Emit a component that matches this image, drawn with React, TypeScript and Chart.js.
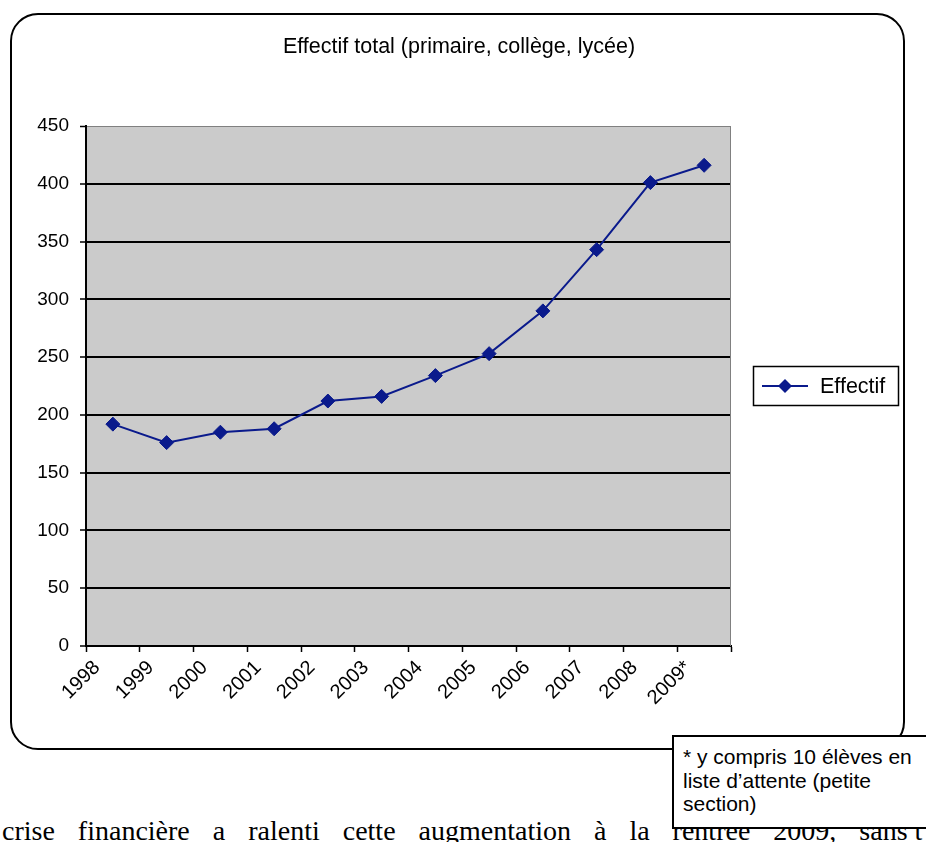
import React, { useEffect, useRef } from 'react';
import { Chart, registerables } from 'chart.js';

Chart.register(...registerables);

const TITLE = 'Effectif total (primaire, collège, lycée)';
const SERIES_LABEL = 'Effectif';
const YEARS = ['1998', '1999', '2000', '2001', '2002', '2003', '2004', '2005', '2006', '2007', '2008', '2009*'];
const EFFECTIF = [192, 176, 185, 188, 212, 216, 234, 253, 290, 343, 401, 416];
const Y_MIN = 0;
const Y_MAX = 450;
const Y_STEP = 50;
const NOTE_LINES = ['* y compris 10 élèves en', 'liste d’attente (petite', 'section)'];
const BODY_TEXT = 'crise financière a ralenti cette augmentation à la rentrée 2009, sans';
const BODY_TAIL = ' t';

const SANS = '"Liberation Sans", Arial, sans-serif';
const NAVY = '#0A1A8C';

const excelPlugin = {
  id: 'excelLook',
  beforeDraw(chart: any) {
    const { ctx, chartArea: a } = chart;
    ctx.save();
    ctx.fillStyle = '#CBCBCB';
    ctx.fillRect(a.left, a.top, a.right - a.left, a.bottom - a.top);
    ctx.restore();
  },
  beforeDatasetsDraw(chart: any) {
    const { ctx, chartArea: a } = chart;
    ctx.save();
    ctx.strokeStyle = '#808080';
    ctx.lineWidth = 1;
    ctx.beginPath();
    ctx.moveTo(a.right - 0.5, a.top);
    ctx.lineTo(a.right - 0.5, a.bottom);
    ctx.stroke();
    ctx.restore();
  },
  afterDraw(chart: any) {
    const { ctx } = chart;
    ctx.save();
    // title
    ctx.fillStyle = '#000';
    ctx.font = `21.5px ${SANS}`;
    ctx.textAlign = 'center';
    ctx.textBaseline = 'middle';
    ctx.fillText(TITLE, 459, 47);
    // legend
    const lx = 753, ly = 366, lw = 145, lh = 39;
    ctx.fillStyle = '#fff';
    ctx.fillRect(lx, ly, lw, lh);
    ctx.strokeStyle = '#000';
    ctx.lineWidth = 1.5;
    ctx.strokeRect(lx + 0.5, ly + 0.5, lw, lh);
    const cy = ly + lh / 2 + 0.5;
    const ds = chart.data.datasets[0];
    ctx.strokeStyle = ds.borderColor;
    ctx.lineWidth = 2;
    ctx.beginPath();
    ctx.moveTo(lx + 9, cy);
    ctx.lineTo(lx + 55, cy);
    ctx.stroke();
    const mx = lx + 32, r = 7;
    ctx.fillStyle = ds.backgroundColor;
    ctx.beginPath();
    ctx.moveTo(mx, cy - r);
    ctx.lineTo(mx + r, cy);
    ctx.lineTo(mx, cy + r);
    ctx.lineTo(mx - r, cy);
    ctx.closePath();
    ctx.fill();
    ctx.fillStyle = '#000';
    ctx.font = `21.5px ${SANS}`;
    ctx.textAlign = 'left';
    ctx.textBaseline = 'middle';
    ctx.fillText(ds.label, lx + 67, cy + 1);
    ctx.restore();
  },
};

export default function App() {
  const ref = useRef<HTMLCanvasElement>(null);

  useEffect(() => {
    const xFont = { family: SANS, size: 20 };
    const yFont = { family: SANS, size: 19 };
    const chart = new Chart(ref.current as HTMLCanvasElement, {
      type: 'line',
      data: {
        labels: YEARS,
        datasets: [
          {
            label: SERIES_LABEL,
            data: EFFECTIF,
            borderColor: NAVY,
            backgroundColor: NAVY,
            borderWidth: 2,
            pointStyle: 'rectRot',
            pointRadius: 7,
            pointBorderWidth: 1,
            pointBorderColor: NAVY,
            pointBackgroundColor: NAVY,
            tension: 0,
            fill: false,
          },
        ],
      },
      options: {
        responsive: false,
        animation: false,
        layout: { padding: { left: 6, right: 195, top: 126, bottom: 54 } },
        plugins: {
          legend: { display: false },
          title: { display: false },
          tooltip: { enabled: false },
        },
        scales: {
          x: {
            type: 'category',
            offset: true,
            grid: {
              offset: true,
              drawOnChartArea: false,
              drawTicks: true,
              tickLength: 6,
              tickColor: '#000',
              tickWidth: 1.5,
            },
            border: { display: true, color: '#000', width: 2 },
            ticks: {
              autoSkip: false,
              maxRotation: 45,
              minRotation: 45,
              padding: 4,
              labelOffset: -16,
              color: '#000',
              font: xFont,
            },
            afterFit: (s: any) => {
              s.height = 60;
            },
          },
          y: {
            min: Y_MIN,
            max: Y_MAX,
            ticks: { stepSize: Y_STEP, padding: 11, color: '#000', font: yFont },
            grid: {
              color: (c: any) => (c.tick && c.tick.value === Y_MAX ? '#808080' : '#000'),
              lineWidth: (c: any) => (c.tick && c.tick.value === Y_MAX ? 1 : 2),
              tickColor: '#000',
              tickLength: 6,
              tickWidth: 1.5,
            },
            border: { display: true, color: '#000', width: 2 },
            afterFit: (s: any) => {
              s.width = 80;
            },
          },
        },
      },
      plugins: [excelPlugin],
    } as any);
    return () => chart.destroy();
  }, []);

  return (
    <div
      style={{
        position: 'fixed',
        left: 0,
        top: 0,
        width: 926,
        height: 842,
        overflow: 'hidden',
        background: '#fff',
      }}
    >
      <div
        style={{
          position: 'absolute',
          left: 10,
          top: 13,
          width: 895,
          height: 737,
          border: '2px solid #000',
          borderRadius: 28,
          boxSizing: 'border-box',
        }}
      />
      <canvas
        ref={ref}
        width={926}
        height={760}
        style={{ position: 'absolute', left: 0, top: 0, width: 926, height: 760 }}
      />
      <div
        style={{
          position: 'absolute',
          left: 2,
          top: 817,
          whiteSpace: 'nowrap',
          fontFamily: '"Liberation Serif", "Times New Roman", serif',
          fontSize: 28,
          lineHeight: '28px',
          wordSpacing: '16px',
          color: '#000',
        }}
      >
        {BODY_TEXT}
        <span style={{ wordSpacing: 0 }}>{BODY_TAIL}</span>
      </div>
      <div
        style={{
          position: 'absolute',
          left: 672,
          top: 735,
          width: 280,
          height: 94,
          border: '2px solid #000',
          background: '#fff',
          boxSizing: 'border-box',
          padding: '8px 0 0 9px',
          fontFamily: SANS,
          fontSize: 21,
          lineHeight: '23.5px',
          color: '#000',
          whiteSpace: 'nowrap',
        }}
      >
        {NOTE_LINES.map((l, i) => (
          <div key={i}>{l}</div>
        ))}
      </div>
    </div>
  );
}
